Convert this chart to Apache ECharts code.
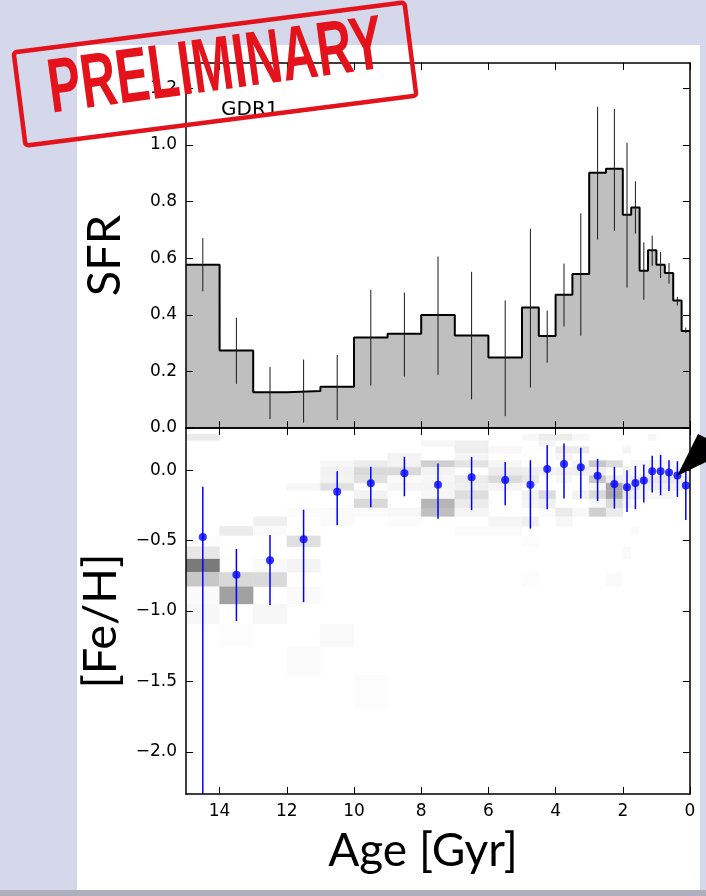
<!DOCTYPE html>
<html><head><meta charset="utf-8">
<script src="https://cdn.jsdelivr.net/npm/echarts@6/dist/echarts.min.js"></script>
<style>html,body{margin:0;padding:0;background:#d4d8ea}#c{width:706px;height:896px}</style>
</head><body><div id="c"></div>
<script>
// ---------- data ----------
const ageTicks = [0, 2, 4, 6, 8, 10, 12, 14];
const sfrTicks = [0, 0.2, 0.4, 0.6, 0.8, 1.0, 1.2];
const fehTicks = [-2, -1.5, -1, -0.5, 0];

const sfrBinEdges = [15, 14, 13, 12, 11, 10, 9, 8, 7, 6, 5, 4.5, 4, 3.5, 3, 2.5, 2, 1.75, 1.5, 1.25, 1, 0.75, 0.5, 0.25, 0];
const sfrValues = [0.577, 0.274, 0.126, 0.131, 0.146, 0.320, 0.333, 0.399, 0.327, 0.249, 0.426, 0.325, 0.471, 0.544, 0.902, 0.916, 0.754, 0.779, 0.556, 0.628, 0.577, 0.548, 0.451, 0.343];
const binCenters = [14.5, 13.5, 12.5, 11.5, 10.5, 9.5, 8.5, 7.5, 6.5, 5.5, 4.75, 4.25, 3.75, 3.25, 2.75, 2.25, 1.875, 1.625, 1.375, 1.125, 0.875, 0.625, 0.375, 0.125];
const sfrErrLow  = [0.483, 0.156, 0.032, 0.019, 0.028, 0.150, 0.182, 0.188, 0.101, 0.042, 0.143, 0.231, 0.359, 0.326, 0.666, 0.697, 0.496, 0.687, 0.453, 0.573, 0.530, 0.510, 0.433, 0.335];
const sfrErrHigh = [0.671, 0.390, 0.216, 0.242, 0.258, 0.488, 0.479, 0.606, 0.552, 0.451, 0.704, 0.415, 0.581, 0.759, 1.135, 1.128, 1.008, 0.872, 0.656, 0.680, 0.622, 0.583, 0.463, 0.355];

const fehValues  = [-0.474, -0.742, -0.640, -0.491, -0.152, -0.092, -0.021, -0.104, -0.050, -0.069, -0.104, 0.009, 0.045, 0.021, -0.040, -0.097, -0.121, -0.090, -0.073, -0.007, -0.007, -0.017, -0.038, -0.109];
const fehErrLow  = [-2.60, -1.072, -0.958, -0.937, -0.391, -0.263, -0.185, -0.344, -0.284, -0.249, -0.415, -0.277, -0.201, -0.201, -0.218, -0.273, -0.296, -0.277, -0.230, -0.159, -0.178, -0.147, -0.190, -0.353];
const fehErrHigh = [-0.118, -0.559, -0.460, -0.280, -0.007, 0.024, 0.095, 0.047, 0.095, 0.059, 0.071, 0.178, 0.190, 0.159, 0.081, 0.024, 0.000, 0.031, 0.040, 0.102, 0.109, 0.071, 0.064, 0.020];

// [Fe/H] row edges of the background 2D histogram (top to bottom)
const fehRowEdges = [0.258, 0.211, 0.169, 0.121, 0.069, 0.021, -0.038, -0.092, -0.144, -0.204, -0.268, -0.329, -0.398, -0.465, -0.543, -0.631, -0.725, -0.827, -0.951, -1.093, -1.254, -1.458, -1.686];
// cells: [age from, age to, row index, density]
const hessCells = [
  [15,14,0,0.08],[15,14,13,0.01],[15,14,14,0.09],[15,14,15,0.52],[15,14,16,0.22],[15,14,17,0.02],[15,14,18,0.03],
  [14,13,12,0.075],[14,13,16,0.15],[14,13,17,0.37],[14,13,19,0.012],
  [13,12,11,0.06],[13,12,12,0.02],[13,12,15,0.025],[13,12,16,0.15],[13,12,18,0.03],
  [12,11,7,0.03],[12,11,10,0.012],[12,11,13,0.12],[12,11,15,0.043],[12,11,17,0.02],[12,11,20,0.016],
  [11,10,4,0.03],[11,10,5,0.05],[11,10,6,0.043],[11,10,7,0.12],[11,10,10,0.02],[11,10,11,0.02],[11,10,19,0.025],
  [10,9,4,0.075],[10,9,5,0.15],[10,9,6,0.12],[10,9,7,0.01],[10,9,8,0.047],[10,9,9,0.15],[10,9,10,0.02],[10,9,21,0.012],
  [9,8,3,0.047],[9,8,4,0.047],[9,8,5,0.15],[9,8,6,0.02],[9,8,7,0.04],[9,8,10,0.03],[9,8,11,0.016],
  [8,7,1,0.03],[8,7,4,0.19],[8,7,5,0.047],[8,7,6,0.03],[8,7,7,0.04],[8,7,8,0.03],[8,7,9,0.29],[8,7,10,0.25],
  [7,6,1,0.06],[7,6,2,0.067],[7,6,3,0.04],[7,6,4,0.11],[7,6,6,0.075],[7,6,7,0.06],[7,6,8,0.13],[7,6,9,0.08],[7,6,10,0.04],[7,6,12,0.02],
  [6,5,2,0.027],[6,5,4,0.035],[6,5,5,0.075],[6,5,6,0.14],[6,5,7,0.04],[6,5,11,0.04],[6,5,12,0.02],
  [5,4.5,0,0.03],[5,4.5,5,0.067],[5,4.5,6,0.09],[5,4.5,8,0.047],[5,4.5,9,0.04],[5,4.5,11,0.06],[5,4.5,13,0.01],[5,4.5,16,0.01],
  [4.5,4,0,0.07],[4.5,4,1,0.04],[4.5,4,5,0.047],[4.5,4,8,0.14],[4.5,4,9,0.06],[4.5,4,10,0.02],
  [4,3.5,0,0.07],[4,3.5,2,0.08],[4,3.5,3,0.04],[4,3.5,5,0.06],[4,3.5,6,0.03],[4,3.5,10,0.08],[4,3.5,11,0.03],
  [3.5,3,0,0.03],[3.5,3,2,0.08],[3.5,3,4,0.04],[3.5,3,5,0.06],[3.5,3,8,0.047],[3.5,3,10,0.03],
  [3,2.5,4,0.22],[3,2.5,5,0.06],[3,2.5,6,0.22],[3,2.5,7,0.04],[3,2.5,8,0.14],[3,2.5,9,0.03],[3,2.5,10,0.19],
  [2.5,2,4,0.14],[2.5,2,6,0.075],[2.5,2,7,0.34],[2.5,2,8,0.34],[2.5,2,9,0.14],[2.5,2,10,0.08],[2.5,2,16,0.02],
  [2,1.75,2,0.04],[2,1.75,5,0.047],[2,1.75,6,0.047],[2,1.75,7,0.12],[2,1.75,8,0.09],[2,1.75,9,0.047],[2,1.75,14,0.02],
  [1.75,1.5,4,0.03],[1.75,1.5,6,0.06],[1.75,1.5,7,0.11],[1.75,1.5,8,0.06],[1.75,1.5,12,0.02],
  [1.5,1.25,4,0.03],[1.5,1.25,5,0.03],[1.5,1.25,6,0.08],[1.5,1.25,7,0.047],[1.5,1.25,8,0.047],
  [1.25,1,0,0.03],[1.25,1,4,0.04],[1.25,1,6,0.09],[1.25,1,7,0.06],[1.25,1,8,0.03],
  [1,0.75,4,0.04],[1,0.75,6,0.09],[1,0.75,7,0.06],[1,0.75,8,0.03],
  [0.75,0.5,4,0.04],[0.75,0.5,6,0.09],[0.75,0.5,7,0.06],[0.75,0.5,8,0.03],
  [0.5,0.25,5,0.04],[0.5,0.25,6,0.08],[0.5,0.25,7,0.06],
  [0.25,0,5,0.03],[0.25,0,6,0.06],[0.25,0,7,0.04]
];

// ---------- build ----------
const stepLine = [];
sfrValues.forEach((v, i) => { stepLine.push([sfrBinEdges[i], v]); stepLine.push([sfrBinEdges[i + 1], v]); });
const sfrErr = binCenters.map((a, i) => [a, sfrErrLow[i], sfrErrHigh[i]]);
const fehErr = binCenters.map((a, i) => [a, fehErrLow[i], fehErrHigh[i]]);
const fehPts = binCenters.map((a, i) => [a, fehValues[i]]);
const hessData = hessCells.map(c => [c[0], c[1], fehRowEdges[c[2]], fehRowEdges[c[2] + 1], c[3]]);

const fmt = v => v.toFixed(1).replace('-', '\u2212');
const tickFont = {fontFamily: 'DejaVu Sans', fontSize: 17, color: '#000'};
const axLine = {show: true, onZero: false, lineStyle: {color: '#000', width: 1.5}};

function xAx(grid, pos, labels, name) {
  return {
    type: 'value', gridIndex: grid, position: pos, min: 0, max: 15, inverse: true, z: 10,
    axisLine: axLine, splitLine: {show: false},
    axisTick: {show: true, inside: true, length: 7, customValues: ageTicks, lineStyle: {color: '#000', width: 1}},
    axisLabel: Object.assign({show: labels, margin: 9, customValues: ageTicks, formatter: v => String(v)}, tickFont),
    name: name || '', nameLocation: 'middle', nameGap: 34,
    nameTextStyle: {fontFamily: 'Lato', fontSize: 46, color: '#000', padding: [0, 30, 0, 0]}
  };
}
function yAx(grid, pos, min, max, ticks, labels, name) {
  return {
    type: 'value', gridIndex: grid, position: pos, min: min, max: max, z: 10,
    axisLine: axLine, splitLine: {show: false},
    axisTick: {show: true, inside: true, length: 7, customValues: ticks, lineStyle: {color: '#000', width: 1}},
    axisLabel: Object.assign({show: labels, margin: 9, customValues: ticks, formatter: fmt}, tickFont),
    name: name || '', nameLocation: 'middle', nameRotate: 90, nameGap: 58,
    nameTextStyle: {fontFamily: 'Lato', fontSize: 47, color: '#000', padding: [0, 20, 0, 0]}
  };
}

const chart = echarts.init(document.getElementById('c'), null, {renderer: 'canvas'});
chart.setOption({
  backgroundColor: '#d4d8ea',
  animation: false,
  grid: [
    {left: 186, top: 63, width: 504, height: 365},
    {left: 186, top: 428, width: 504, height: 366}
  ],
  xAxis: [xAx(0, 'bottom', false), xAx(0, 'top', false), xAx(1, 'bottom', true, 'Age [Gyr]'), xAx(1, 'top', false)],
  yAxis: [yAx(0, 'left', 0, 1.29, sfrTicks, true, 'SFR'), yAx(0, 'right', 0, 1.29, sfrTicks, false),
          yAx(1, 'left', -2.3, 0.3, fehTicks, true, '[Fe/H]'), yAx(1, 'right', -2.3, 0.3, fehTicks, false)],
  graphic: [
    {type: 'rect', z: -1, silent: true, shape: {x: 77, y: 45, width: 623, height: 845}, style: {fill: '#ffffff'}},
    {type: 'rect', z: -1, silent: true, shape: {x: 0, y: 890, width: 706, height: 6}, style: {fill: '#aeb1bd'}},
    {type: 'text', z: 20, x: 221, y: 110, style: {text: 'GDR1', font: '20px "DejaVu Sans"', fill: '#000', textAlign: 'left', textVerticalAlign: 'middle'}},
    {type: 'polygon', z: 50, shape: {points: [[677, 476], [698, 434], [706, 438], [706, 462]]}, style: {fill: '#000'}},
    {type: 'rect', z: 100, x: 215, y: 74, rotation: 0.127, shape: {x: -197, y: -47, width: 394, height: 94, r: 3}, style: {fill: 'none', stroke: '#e3121b', lineWidth: 4.5}},
    {type: 'text', z: 100, x: 216, y: 69, rotation: 0.135, scaleX: 0.64, style: {text: 'PRELIMINARY', font: 'bold 77px "Liberation Sans"', fill: '#e3121b', textAlign: 'center', textVerticalAlign: 'middle'}}
  ],
  series: [
    {
      type: 'line', xAxisIndex: 0, yAxisIndex: 0, data: stepLine, symbol: 'none', z: 2,
      lineStyle: {color: '#000', width: 2}, areaStyle: {color: '#bfbfbf', opacity: 1}
    },
    {
      type: 'custom', xAxisIndex: 0, yAxisIndex: 0, data: sfrErr, z: 3, clip: true,
      renderItem: (p, api) => {
        const a = api.coord([api.value(0), api.value(1)]);
        const b = api.coord([api.value(0), api.value(2)]);
        return {type: 'line', shape: {x1: a[0], y1: a[1], x2: b[0], y2: b[1]}, style: {stroke: '#1a1a1a', lineWidth: 1}};
      }
    },
    {
      type: 'custom', xAxisIndex: 2, yAxisIndex: 2, data: hessData, z: 1, clip: true,
      renderItem: (p, api) => {
        const a = api.coord([api.value(0), api.value(2)]);
        const b = api.coord([api.value(1), api.value(3)]);
        const g = Math.round(255 * (1 - api.value(4)));
        const c = 'rgb(' + g + ',' + g + ',' + g + ')';
        return {type: 'rect', shape: {x: Math.min(a[0], b[0]), y: Math.min(a[1], b[1]), width: Math.abs(b[0] - a[0]), height: Math.abs(b[1] - a[1])}, style: {fill: c, stroke: c, lineWidth: 0.3}};
      }
    },
    {
      type: 'custom', xAxisIndex: 2, yAxisIndex: 2, data: fehErr, z: 3, clip: true,
      renderItem: (p, api) => {
        const a = api.coord([api.value(0), api.value(1)]);
        const b = api.coord([api.value(0), api.value(2)]);
        return {type: 'line', shape: {x1: a[0], y1: a[1], x2: b[0], y2: b[1]}, style: {stroke: '#0000ff', lineWidth: 1.5}};
      }
    },
    {
      type: 'scatter', xAxisIndex: 2, yAxisIndex: 2, data: fehPts, z: 4,
      symbol: 'circle', symbolSize: 8, itemStyle: {color: '#0000ff'}
    }
  ]
});
</script></body></html>
